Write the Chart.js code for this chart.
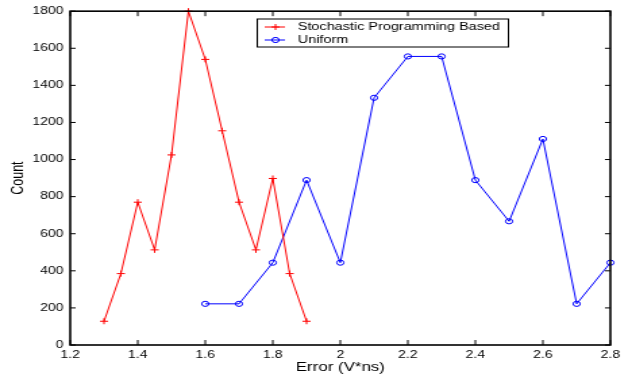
<!DOCTYPE html>
<html>
<head>
<meta charset="utf-8">
<script src="https://cdn.jsdelivr.net/npm/chart.js@4.4.1/dist/chart.umd.min.js"></script>
<style>
html, body { margin: 0; padding: 0; background: #fff; overflow: hidden; }
</style>
</head>
<body>
<!-- drawn narrow and stretched sideways, like the original figure -->
<canvas id="myChart" width="468" height="379" style="display:block;width:632px;height:379px"></canvas>
<script>

// tick values and labels
var xTicks = [1.2, 1.4, 1.6, 1.8, 2.0, 2.2, 2.4, 2.6, 2.8];
var xLabels = ["1.2", "1.4", "1.6", "1.8", "2", "2.2", "2.4", "2.6", "2.8"];
var yTicks = [0, 200, 400, 600, 800, 1000, 1200, 1400, 1600, 1800];

// Stochastic Programming Based
var stochX = [1.3, 1.35, 1.4, 1.45, 1.5, 1.55, 1.6, 1.65, 1.7, 1.75, 1.8, 1.85, 1.9];
var stochY = [128, 385, 770, 513, 1025, 1800, 1540, 1155, 770, 513, 898, 385, 128];

// Uniform
var uniX = [1.6, 1.7, 1.8, 1.9, 2.0, 2.1, 2.2, 2.3, 2.4, 2.5, 2.6, 2.7, 2.8];
var uniY = [222, 222, 444, 889, 444, 1333, 1556, 1556, 889, 667, 1111, 222, 444];

var legendNames = ["Stochastic Programming Based", "Uniform"];

const toPoints = (xs, ys) => xs.map((x, i) => ({x: x, y: ys[i]}));

// box round the plot, inward ticks on all four sides, and the legend
const framePlugin = {
    id: "frame",
    afterDraw: (chart) => {
        const ctx = chart.ctx;
        const a = chart.chartArea;
        const xs = chart.scales.x, ys = chart.scales.y;
        ctx.save();
        ctx.strokeStyle = "#000";
        ctx.lineWidth = 1;
        ctx.beginPath();
        xTicks.forEach(v => {
            const px = xs.getPixelForValue(v);
            ctx.moveTo(px, a.bottom); ctx.lineTo(px, a.bottom - 5);
            ctx.moveTo(px, a.top); ctx.lineTo(px, a.top + 5);
        });
        yTicks.forEach(v => {
            const py = ys.getPixelForValue(v);
            ctx.moveTo(a.left, py); ctx.lineTo(a.left + 4, py);
            ctx.moveTo(a.right, py); ctx.lineTo(a.right - 4, py);
        });
        ctx.stroke();
        ctx.lineWidth = 1.6;
        ctx.strokeRect(a.left, a.top, a.right - a.left, a.bottom - a.top);

        // legend
        const bx = 190.5, by = 19, bw = 186, bh = 28;
        ctx.fillStyle = "#fff";
        ctx.fillRect(bx, by, bw, bh);
        ctx.lineWidth = 1;
        ctx.strokeRect(bx, by, bw, bh);
        ctx.font = "10.7px 'Liberation Sans', Arial, sans-serif";
        ctx.textBaseline = "middle";
        chart.data.datasets.forEach((ds, i) => {
            const ly = by + 8 + i * 13;
            ctx.strokeStyle = ds.borderColor;
            ctx.lineWidth = 1;
            ctx.beginPath();
            ctx.moveTo(196, ly); ctx.lineTo(211, ly);
            ctx.stroke();
            ctx.fillStyle = "rgba(0,0,0,0)";
            Chart.helpers.drawPoint(ctx, {
                pointStyle: ds.pointStyle, radius: ds.pointRadius,
                borderWidth: 1, rotation: 0
            }, 204, ly);
            ctx.fillStyle = "#000";
            ctx.fillText(legendNames[i], 220.5, ly + 0.5);
        });
        ctx.restore();
    }
};

new Chart("myChart", {
    type: "line",
    data: {
        datasets: [{
            label: legendNames[0],
            data: toPoints(stochX, stochY),
            borderColor: "#ff0000",
            backgroundColor: "rgba(0,0,0,0)",
            borderWidth: 1,
            pointStyle: "cross",
            pointRadius: 3,
            pointBorderWidth: 1,
            pointBorderColor: "#ff0000",
            clip: false,
            fill: false
        }, {
            label: legendNames[1],
            data: toPoints(uniX, uniY),
            borderColor: "#0000ff",
            backgroundColor: "rgba(0,0,0,0)",
            borderWidth: 1,
            pointStyle: "circle",
            pointRadius: 2.6,
            pointBorderWidth: 1,
            pointBorderColor: "#0000ff",
            pointBackgroundColor: "rgba(0,0,0,0)",
            clip: false,
            fill: false
        }]
    },
    options: {
        responsive: false,
        devicePixelRatio: 1,
        animation: false,
        layout: {padding: {top: 10, right: 16, bottom: 0, left: 0}},
        plugins: {
            legend: {display: false},
            tooltip: {enabled: false}
        },
        scales: {
            x: {
                type: "linear",
                min: 1.2,
                max: 2.8,
                afterBuildTicks: (s) => { s.ticks = xTicks.map(v => ({value: v})); },
                afterFit: (s) => { s.height = 34; },
                grid: {display: false, drawTicks: false},
                border: {display: false},
                ticks: {
                    color: "#000",
                    padding: 4,
                    maxRotation: 0,
                    font: {family: "'Liberation Sans', Arial, sans-serif", size: 10.3},
                    callback: (v) => xLabels[xTicks.indexOf(Math.round(v * 10) / 10)]
                },
                title: {
                    display: true,
                    text: "Error (V*ns)",
                    color: "#000",
                    font: {family: "'Liberation Sans', Arial, sans-serif", size: 12.5},
                    padding: {top: 0, bottom: 3.5}
                }
            },
            y: {
                type: "linear",
                min: 0,
                max: 1800,
                afterBuildTicks: (s) => { s.ticks = yTicks.map(v => ({value: v})); },
                afterFit: (s) => { s.width = 52; },
                grid: {display: false, drawTicks: false},
                border: {display: false},
                ticks: {
                    color: "#000",
                    padding: 5,
                    font: {family: "'Liberation Sans', Arial, sans-serif", size: 10.3},
                    callback: (v) => String(v)
                },
                title: {
                    display: true,
                    text: "Count",
                    color: "#000",
                    font: {family: "'Liberation Sans', Arial, sans-serif", size: 12.5},
                    padding: {top: 5.8, bottom: 0}
                }
            }
        }
    },
    plugins: [framePlugin]
});
</script>
</body>
</html>
